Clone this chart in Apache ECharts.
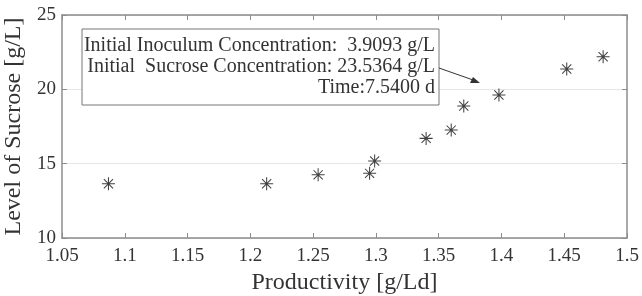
<!DOCTYPE html>
<html>
<head>
<meta charset="utf-8">
<title>Sucrose vs Productivity</title>
<script src="https://cdn.jsdelivr.net/npm/echarts@6/dist/echarts.min.js"></script>
<style>
  body { margin: 0; background: #fff; }
  #main { width: 642px; height: 296px; }
</style>
</head>
<body>
<div id="main"></div>
<script>
  // data
  var productivity = [1.087, 1.213, 1.254, 1.295, 1.299, 1.340, 1.360, 1.370, 1.398, 1.452, 1.481];
  var sucrose      = [13.65, 13.65, 14.25, 14.35, 15.18, 16.70, 17.26, 18.88, 19.62, 21.37, 22.19];
  var xTicks = [1.05, 1.5, 0.05];
  var yTicks = [10, 25, 5];
  var noteLines = [
    'Initial Inoculum Concentration:  3.9093 g/L',
    'Initial  Sucrose Concentration: 23.5364 g/L',
    'Time:7.5400 d'
  ];

  var FONT = '"Liberation Serif", "Times New Roman", serif';
  var AXIS = '#8c8c8c';
  var TXT = '#333';

  var star = 'path://M9.2 0L10.8 0L10.8 20L9.2 20Z M0 9.2L20 9.2L20 10.8L0 10.8Z' +
             ' M2.4 3.5L3.5 2.4L17.6 16.5L16.5 17.6Z M16.5 2.4L17.6 3.5L3.5 17.6L2.4 16.5Z';

  var pts = productivity.map(function (x, i) { return [x, sucrose[i]]; });

  var chart = echarts.init(document.getElementById('main'), null, { renderer: 'canvas' });

  function xAxisBase(pos, show) {
    return {
      type: 'value', position: pos, min: xTicks[0], max: xTicks[1], interval: xTicks[2],
      axisLine: { show: true, onZero: false, lineStyle: { color: AXIS, width: 1.5 } },
      axisTick: { show: true, inside: true, length: 5, lineStyle: { color: AXIS } },
      splitLine: { show: false },
      axisLabel: { show: show, color: TXT, fontFamily: FONT, fontSize: 19, margin: 9,
        formatter: function (v) { return String(+v.toFixed(2)); } }
    };
  }
  function yAxisBase(pos, show) {
    return {
      type: 'value', position: pos, min: yTicks[0], max: yTicks[1], interval: yTicks[2],
      axisLine: { show: true, onZero: false, lineStyle: { color: AXIS, width: 1.5 } },
      axisTick: { show: true, inside: true, length: 5, lineStyle: { color: AXIS } },
      splitLine: { show: show, lineStyle: { color: '#e6e6e6' } },
      axisLabel: { show: show, color: TXT, fontFamily: FONT, fontSize: 19, margin: 6 }
    };
  }

  var xb = xAxisBase('bottom', true);
  xb.name = 'Productivity [g/Ld]';
  xb.nameLocation = 'middle';
  xb.nameGap = 30;
  xb.nameTextStyle = { color: TXT, fontFamily: FONT, fontSize: 24 };
  var yl = yAxisBase('left', true);
  yl.name = 'Level of Sucrose [g/L]';
  yl.nameLocation = 'middle';
  yl.nameGap = 26;
  yl.nameTextStyle = { color: TXT, fontFamily: FONT, fontSize: 24 };

  var option = {
    animation: false,
    backgroundColor: '#fff',
    grid: { left: 62, right: 15, top: 15, bottom: 58, containLabel: false, outerBoundsMode: 'none' },
    xAxis: [xb, xAxisBase('top', false)],
    yAxis: [yl, yAxisBase('right', false)],
    series: [{
      type: 'scatter',
      data: pts,
      symbol: star,
      symbolSize: 13,
      itemStyle: { color: '#111' }
    }],
    graphic: [
      { type: 'rect', z: 100, shape: { x: 82, y: 29, width: 357, height: 76 },
        style: { fill: '#fff', stroke: '#777', lineWidth: 1 } },
      { type: 'text', z: 101, x: 435, y: 46, style: { text: noteLines[0], font: '20px ' + FONT, fill: TXT, align: 'right', verticalAlign: 'middle' } },
      { type: 'text', z: 101, x: 435, y: 67, style: { text: noteLines[1], font: '20px ' + FONT, fill: TXT, align: 'right', verticalAlign: 'middle' } },
      { type: 'text', z: 101, x: 435, y: 88, style: { text: noteLines[2], font: '20px ' + FONT, fill: TXT, align: 'right', verticalAlign: 'middle' } },
      { type: 'line', z: 100, shape: { x1: 439, y1: 68, x2: 476, y2: 81 }, style: { stroke: '#333', lineWidth: 1 } },
      { type: 'polygon', z: 100, shape: { points: [[480, 83], [470, 83], [473, 77]] }, style: { fill: '#333' } }
    ]
  };
  chart.setOption(option);
</script>
</body>
</html>
